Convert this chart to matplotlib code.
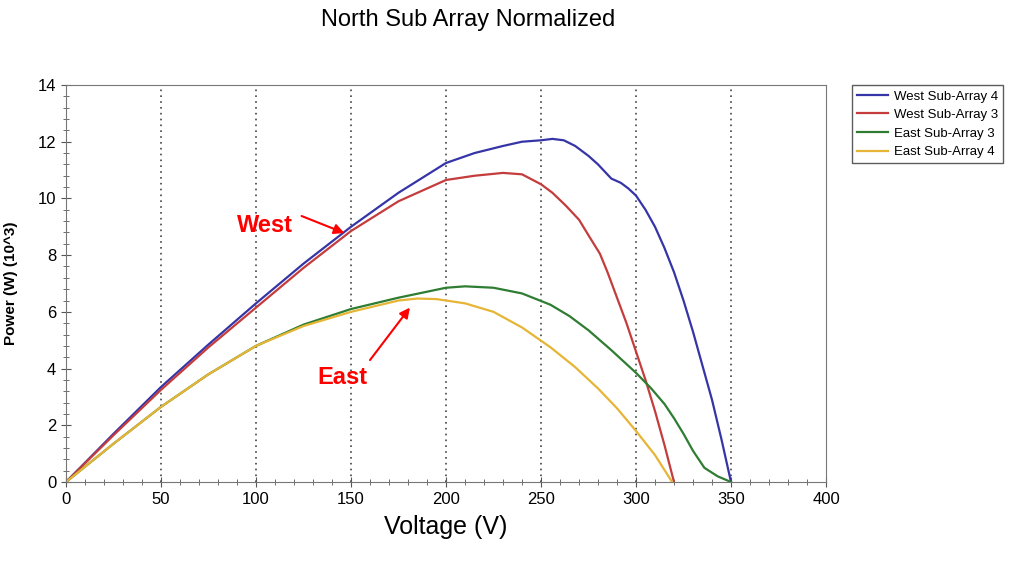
import numpy as np
import matplotlib
matplotlib.use('Agg')
import matplotlib.pyplot as plt
from matplotlib.ticker import MultipleLocator

plt.rcParams['font.family'] = ['Liberation Sans', 'DejaVu Sans']

# West Sub-Array 4
v_w4 = [0, 25, 50, 75, 100, 125, 150, 175, 200, 215, 230, 240, 250, 256, 262, 268, 275, 280, 287, 292, 296,
        300, 305, 310, 315, 320, 325, 330, 335, 340, 345, 350]
p_w4 = [0, 1.7, 3.35, 4.85, 6.3, 7.7, 9.0, 10.2, 11.25, 11.6, 11.85, 12.0, 12.05, 12.1, 12.05, 11.85, 11.5, 11.2, 10.7, 10.55, 10.35,
        10.1, 9.6, 9.0, 8.25, 7.4, 6.4, 5.3, 4.1, 2.9, 1.5, 0]
# West Sub-Array 3
v_w3 = [0, 25, 50, 75, 100, 125, 150, 175, 200, 215, 230, 240, 250, 256, 263, 270, 275, 281, 285, 290, 295,
        300, 305, 310, 315, 320]
p_w3 = [0, 1.65, 3.25, 4.75, 6.15, 7.55, 8.85, 9.9, 10.65, 10.8, 10.9, 10.85, 10.5, 10.2, 9.75, 9.25, 8.7, 8.05, 7.4, 6.5, 5.6,
        4.6, 3.6, 2.5, 1.3, 0]
# East Sub-Array 3
v_e3 = [0, 25, 50, 75, 100, 125, 150, 175, 200, 210, 225, 240, 255, 265, 275, 287, 300, 308, 315, 320, 325, 330, 336, 343, 350]
p_e3 = [0, 1.35, 2.65, 3.8, 4.8, 5.55, 6.1, 6.5, 6.85, 6.9, 6.85, 6.65, 6.25, 5.85, 5.35, 4.65, 3.85, 3.3, 2.75, 2.25, 1.7, 1.1, 0.5, 0.2, 0]
# East Sub-Array 4
v_e4 = [0, 25, 50, 75, 100, 125, 150, 175, 185, 195, 210, 225, 240, 255, 268, 280, 290, 300, 310, 319]
p_e4 = [0, 1.35, 2.65, 3.8, 4.8, 5.5, 6.0, 6.4, 6.47, 6.45, 6.3, 6.0, 5.45, 4.75, 4.05, 3.3, 2.6, 1.8, 0.95, 0]

grid_x = [50, 100, 150, 200, 250, 300, 350]

fig = plt.figure(figsize=(10.11, 5.72), dpi=100)
ax = fig.add_axes([66/1011, 1-482/572, (826-66)/1011, (482-85)/572])

for gx in grid_x:
    ax.axvline(gx, linestyle=(0, (1, 2.5)), color='#444444', lw=1.2, zorder=0)

ax.plot(v_w4, p_w4, color='#3535a8', lw=1.6, label='West Sub-Array 4')
ax.plot(v_w3, p_w3, color='#c43c3c', lw=1.6, label='West Sub-Array 3')
ax.plot(v_e3, p_e3, color='#2e7d32', lw=1.6, label='East Sub-Array 3')
ax.plot(v_e4, p_e4, color='#e6b535', lw=1.6, label='East Sub-Array 4')

ax.set_xlim(0, 400)
ax.set_ylim(0, 14)
ax.xaxis.set_major_locator(MultipleLocator(50))
ax.xaxis.set_minor_locator(MultipleLocator(10))
ax.yaxis.set_major_locator(MultipleLocator(2))
ax.yaxis.set_minor_locator(MultipleLocator(0.4))
ax.tick_params(which='major', direction='inout', length=7, color='#555555', labelsize=12)
ax.tick_params(which='minor', direction='inout', length=4, color='#555555')
for s in ax.spines.values():
    s.set_color('#777777')

ax.set_xlabel('Voltage (V)', fontsize=18, labelpad=6)
ax.set_ylabel('Power (W) (10^3)', fontsize=11, fontweight='bold', labelpad=14)
fig.text(468/1011, 1-20/572, 'North Sub Array Normalized', fontsize=17, ha='center', va='center')

# annotations
arrow = dict(arrowstyle='-|>', color='red', lw=1.5, mutation_scale=15, shrinkA=0, shrinkB=0)
ax.text(104.5, 9.06, 'West', color='red', fontsize=17, fontweight='bold', ha='center', va='center')
ax.annotate('', xy=(146.5, 8.78), xytext=(124, 9.38), arrowprops=arrow)
ax.text(145.5, 3.7, 'East', color='red', fontsize=17, fontweight='bold', ha='center', va='center')
ax.annotate('', xy=(181, 6.15), xytext=(160, 4.3), arrowprops=arrow)

leg = fig.legend(loc='upper left', bbox_to_anchor=(852/1011, 1-85/572), fontsize=9.5,
                 fancybox=False, edgecolor='#333333', handlelength=2.3, borderpad=0.4,
                 labelspacing=0.48, handletextpad=0.45, borderaxespad=0)
leg.get_frame().set_linewidth(1.0)

fig.savefig('out.png', dpi=100)
